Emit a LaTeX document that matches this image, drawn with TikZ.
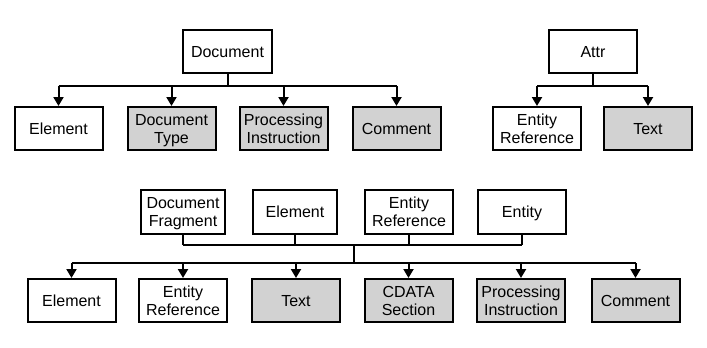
\documentclass[tikz,border=0pt]{standalone}
\usepackage{fontspec}
\setmainfont{Liberation Sans}
\usetikzlibrary{arrows.meta}
\definecolor{boxgray}{RGB}{210,210,210}
\tikzset{
  box/.style={draw=black, line width=2pt, fill=white, minimum height=43pt, inner sep=1pt,
    align=center, font=\fontsize{16}{18}\selectfont, text depth=0pt},
  gbox/.style={box, fill=boxgray},
  wire/.style={line width=2pt},
  arr/.style={line width=2pt, -{Triangle[length=9pt,width=10pt]}}
}
\begin{document}
\begin{tikzpicture}[x=1pt,y=-1pt]
\useasboundingbox (0,0) rectangle (707,348);
% top-left tree
\node[box, minimum width=89pt] (doc) at (227.5,51.5) {Document};
\node[box, minimum width=88pt] (e1) at (58.5,128.5) {Element};
\node[gbox, minimum width=88pt] (dt) at (171.5,128.5) {Document\\Type};
\node[gbox, minimum width=88pt] (pi1) at (283.5,128.5) {Processing\\Instruction};
\node[gbox, minimum width=88pt] (c1) at (396.5,128.5) {Comment};
\coordinate (yA) at (0,86);
\draw[wire] (doc.south) -- (doc.south |- yA);
\draw[wire] (e1.north |- yA) -- (c1.north |- yA);
\foreach \n in {e1,dt,pi1,c1} \draw[arr] (\n.north |- yA) -- (\n.north);
% top-right tree
\node[box, minimum width=88pt] (attr) at (593,51.5) {Attr};
\node[box, minimum width=88pt] (er1) at (537,128.5) {Entity\\Reference};
\node[gbox, minimum width=88pt] (t1) at (648,128.5) {Text};
\draw[wire] (attr.south) -- (attr.south |- yA);
\draw[wire] (er1.north |- yA) -- (t1.north |- yA);
\foreach \n in {er1,t1} \draw[arr] (\n.north |- yA) -- (\n.north);
% bottom: parents
\node[box, minimum width=84pt, minimum height=44pt] (df) at (183,212) {Document\\Fragment};
\node[box, minimum width=84pt, minimum height=44pt] (el2) at (295,212) {Element};
\node[box, minimum width=88pt, minimum height=44pt] (er2) at (409,212) {Entity\\Reference};
\node[box, minimum width=88pt, minimum height=44pt] (en) at (522,212) {Entity};
\coordinate (yB) at (0,245);
\coordinate (yC) at (0,263);
\coordinate (mid) at (354,245);
\foreach \n in {df,el2,er2,en} \draw[wire] (\n.south) -- (\n.south |- yB);
\draw[wire] (df.south |- yB) -- (en.south |- yB);
\draw[wire] (mid) -- (mid |- yC);
% bottom: children
\node[box, minimum width=88pt] (e3) at (71.5,300.5) {Element};
\node[box, minimum width=88pt] (er3) at (183,300.5) {Entity\\Reference};
\node[gbox, minimum width=88pt] (t3) at (296,300.5) {Text};
\node[gbox, minimum width=88pt] (cd) at (408.5,300.5) {CDATA\\Section};
\node[gbox, minimum width=88pt] (pi3) at (521,300.5) {Processing\\Instruction};
\node[gbox, minimum width=88pt] (c3) at (635.5,300.5) {Comment};
\draw[wire] (e3.north |- yC) -- (c3.north |- yC);
\foreach \n in {e3,er3,t3,cd,pi3,c3} \draw[arr] (\n.north |- yC) -- (\n.north);
\end{tikzpicture}
\end{document}
